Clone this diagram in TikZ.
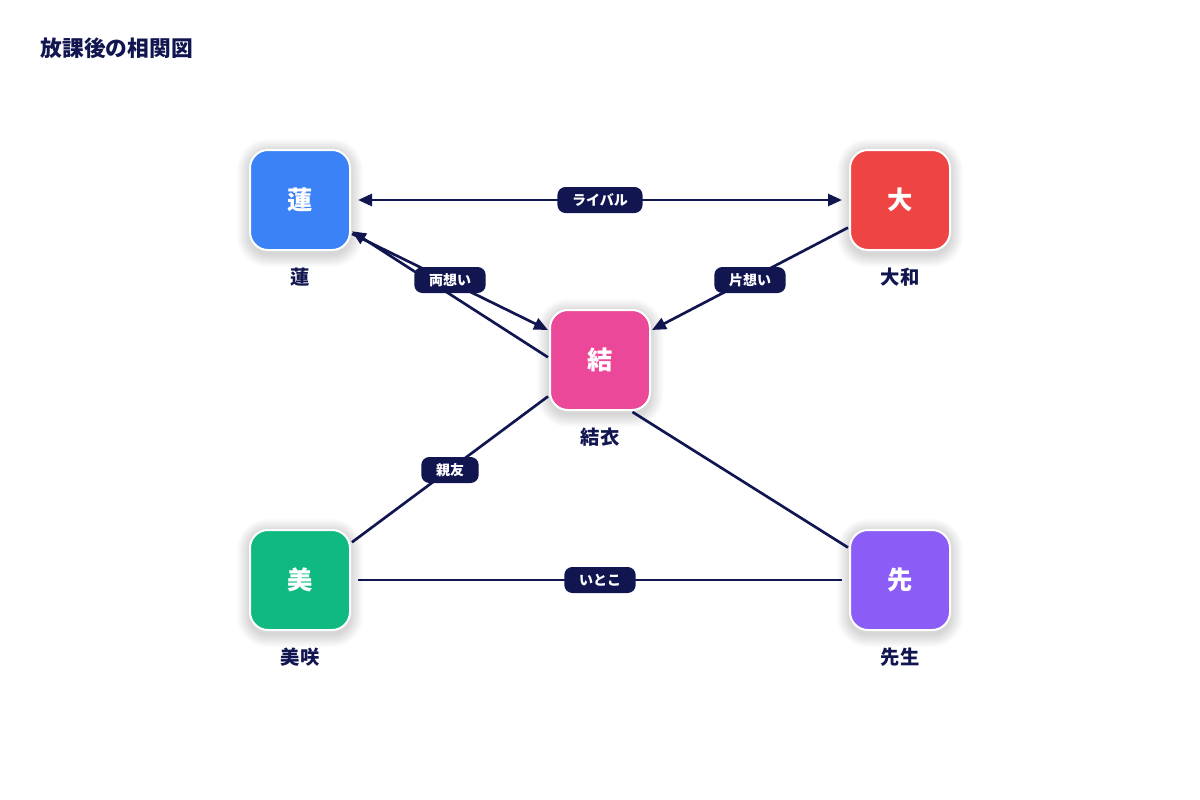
\documentclass[tikz,border=0pt]{standalone}
\usepackage{fontspec}
\setmainfont{Noto Sans CJK JP}
\usetikzlibrary{calc,arrows.meta}
\definecolor{nv}{RGB}{17,22,80}
\definecolor{cRen}{RGB}{59,130,246}
\definecolor{cDai}{RGB}{239,68,68}
\definecolor{cYui}{RGB}{236,72,153}
\definecolor{cMi}{RGB}{16,185,129}
\definecolor{cSen}{RGB}{139,92,246}

\begin{document}
\begin{tikzpicture}[x=0.75pt,y=-0.75pt,
  >={Triangle[length=10.5pt,width=9pt]},
  box/.style={draw=white,line width=1.5pt,rounded corners=13.5pt,minimum size=75pt,
              inner sep=0,outer sep=1.5pt,text=white,font=\fontsize{19}{19}\selectfont\bfseries},
  shd/.style={fill=black,opacity=0.015},
  nm/.style={text=nv,font=\fontsize{14.5}{14.5}\selectfont\bfseries},
  pill/.style={fill=nv,rounded corners=6pt,text=white,inner xsep=11pt,inner ysep=0,
               minimum height=19.5pt,font=\fontsize{10.5}{10.5}\selectfont\bfseries},
  rel/.style={draw=nv,line width=2pt}]

  \path[use as bounding box,fill=white] (0,0) rectangle (1200,800);
  \node[anchor=west,text=nv,font=\fontsize{16.3}{16.3}\selectfont\bfseries] (title) at (36,48) {放課後の相関図};

  % ---- characters ----
  \foreach \n/\c/\t/\l/\x/\y in
    {ren/cRen/蓮/蓮/300/200,dai/cDai/大/大和/900/200,yui/cYui/結/結衣/600/360,
     mi/cMi/美/美咲/300/580,sen/cSen/先/先生/900/580}{
    \foreach \k in {1,...,10}
      \fill[shd,rounded corners=13.5pt+\k pt] (\x-50-1.3*\k,\y-48-1.3*\k) rectangle (\x+50+1.3*\k,\y+54+1.3*\k);
    \node[box,fill=\c] (\n) at (\x,\y) {\t};
    \node[nm] (\n-l) at (\x,\y+77) {\l};}

  % ---- relations ----
  \draw[rel,<->,shorten <=4.5pt,shorten >=4.5pt] (ren.east) -- (dai.west);
  \draw[rel,->] (ren.-33) -- (yui.150);
  \draw[rel,->] (yui.177) -- (ren.-31);
  \draw[rel,->] (dai.208) -- (yui.30);
  \draw[rel] (yui.215) -- (mi.36);
  \draw[rel] (yui.-58) -- (sen.148);
  \draw[rel,shorten <=4.5pt,shorten >=4.5pt] (mi.east) -- (sen.west);

  \node[pill] (p-rival) at ($(ren)!.5!(dai)$) {ライバル};
  \node[pill] (p-ryo) at ($(ren)!.5!(yui)$) {両想い};
  \node[pill] (p-kata) at ($(dai)!.5!(yui)$) {片想い};
  \node[pill] (p-shin) at ($(mi)!.5!(yui)$) {親友};
  \node[pill] (p-itoko) at ($(mi)!.5!(sen)$) {いとこ};

\end{tikzpicture}
\end{document}
